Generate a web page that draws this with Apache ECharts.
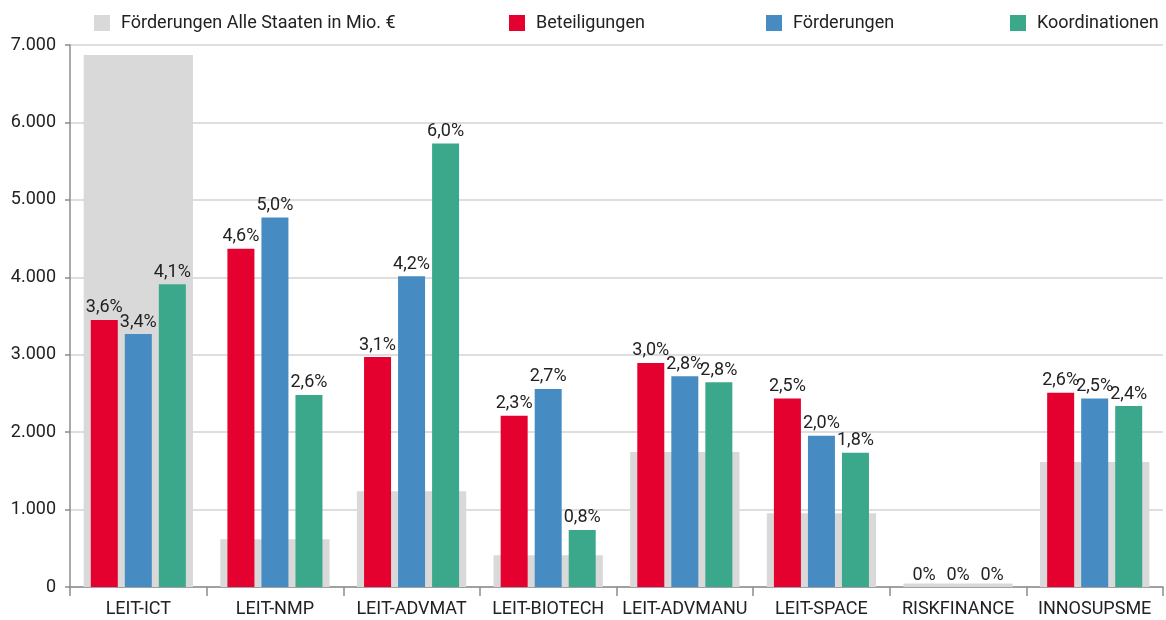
<!DOCTYPE html>
<html>
<head>
<meta charset="utf-8">
<script src="https://cdn.jsdelivr.net/npm/echarts@6/dist/echarts.min.js"></script>
<style>
  html, body { margin: 0; padding: 0; background: #fff; }
  #chart { width: 1166px; height: 620px; }
</style>
</head>
<body>
<div id="chart"></div>
<script>
// categories
var categories = ["LEIT-ICT", "LEIT-NMP", "LEIT-ADVMAT", "LEIT-BIOTECH", "LEIT-ADVMANU", "LEIT-SPACE", "RISKFINANCE", "INNOSUPSME"];

// Förderungen Alle Staaten in Mio. € (left axis)
var alleStaaten = [6870, 617, 1238, 410, 1743, 954, 44, 1613];

// shares in percent
var beteiligungen = [3.60, 4.56, 3.10, 2.31, 3.02, 2.54, 0, 2.62];
var foerderungen = [3.41, 4.98, 4.19, 2.67, 2.84, 2.04, 0, 2.54];
var koordinationen = [4.08, 2.59, 5.98, 0.77, 2.76, 1.81, 0, 2.44];

var yTicks = [0, 1000, 2000, 3000, 4000, 5000, 6000, 7000];

var font = "Roboto, 'DejaVu Sans', sans-serif";
var fontSize = 18;
var textColor = "#222";

function pctLabel(p) {
  var v = p.value;
  if (v === 0) return "0%";
  return v.toFixed(1).replace(".", ",") + "%";
}

function legendItem(name, left) {
  return {
    data: [name],
    left: left,
    top: 14,
    icon: "rect",
    itemWidth: 16,
    itemHeight: 16,
    padding: 0,
    textStyle: {
      fontFamily: font,
      fontSize: fontSize,
      color: textColor,
      padding: [0, 0, 0, 6],
    },
  };
}

function shareSeries(name, color, data) {
  return {
    name: name,
    type: "bar",
    xAxisIndex: 1,
    yAxisIndex: 1,
    barWidth: 27,
    barGap: "26%",
    itemStyle: { color: color },
    label: {
      show: true,
      position: "top",
      distance: 3,
      formatter: pctLabel,
      fontFamily: font,
      fontSize: fontSize,
      color: textColor,
    },
    data: data,
  };
}

var myChart = echarts.init(document.getElementById("chart"), null, { renderer: "canvas" });

var option = {
  animation: false,
  legend: [
    legendItem("Förderungen Alle Staaten in Mio. €", 94),
    legendItem("Beteiligungen", 509),
    legendItem("Förderungen", 766),
    legendItem("Koordinationen", 1010),
  ],
  grid: {
    left: 70,
    right: 3,
    top: 45,
    bottom: 33,
  },
  xAxis: [
    {
      type: "category",
      data: categories,
      axisLine: { lineStyle: { color: "#8c8c8c", width: 1.5 } },
      axisTick: { show: true, length: 9, lineStyle: { color: "#8c8c8c", width: 1.5 } },
      axisLabel: {
        interval: 0,
        fontFamily: font,
        fontSize: fontSize,
        color: textColor,
        margin: 13,
      },
    },
    {
      type: "category",
      data: categories,
      show: false,
    },
  ],
  yAxis: [
    {
      type: "value",
      min: yTicks[0],
      max: yTicks[yTicks.length - 1],
      interval: 1000,
      axisLine: { show: true, lineStyle: { color: "#8c8c8c", width: 1.5 } },
      axisTick: { show: true, length: 5, lineStyle: { color: "#8c8c8c", width: 1.5 } },
      splitLine: { show: true, lineStyle: { color: "#d3d3d3", width: 1.5 } },
      axisLabel: {
        fontFamily: font,
        fontSize: fontSize,
        color: textColor,
        margin: 14,
        formatter: function (v) {
          return String(v).replace(/\B(?=(\d{3})+(?!\d))/g, ".");
        },
      },
    },
    {
      type: "value",
      min: 0,
      max: 7.307,
      show: false,
      splitLine: { show: false },
    },
  ],
  series: [
    {
      name: "Förderungen Alle Staaten in Mio. €",
      type: "bar",
      xAxisIndex: 0,
      yAxisIndex: 0,
      barWidth: "80%",
      itemStyle: { color: "#d9d9d9" },
      data: alleStaaten,
    },
    shareSeries("Beteiligungen", "#e4002f", beteiligungen),
    shareSeries("Förderungen", "#468cc3", foerderungen),
    shareSeries("Koordinationen", "#3ba88c", koordinationen),
  ],
};

myChart.setOption(option);
window.addEventListener("resize", myChart.resize);
</script>
</body>
</html>
